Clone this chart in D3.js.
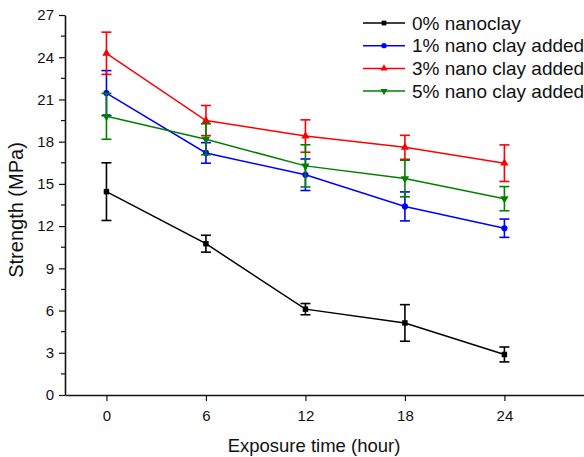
<!DOCTYPE html>
<html>
<head>
<meta charset="utf-8">
<script src="https://cdn.jsdelivr.net/npm/d3@7"></script>
<style>
    body { margin: 0; background: #fff; }
    svg text { font-family: 'Liberation Sans', Arial, sans-serif; fill: #111; }
</style>
</head>
<body>
<svg id="chart" width="584" height="457"></svg>
<script>
'use strict';

// exposure time (hour)
var hours = [0, 6, 12, 18, 24];
var yTicks = [0, 3, 6, 9, 12, 15, 18, 21, 24, 27];

// strength (MPa) and error per series
var clay0 = [14.45, 10.75, 6.1, 5.12, 2.88];
var clay0Err = [2.05, 0.6, 0.4, 1.3, 0.53];
var clay1 = [21.45, 17.2, 15.65, 13.4, 11.85];
var clay1Err = [1.6, 0.73, 1.12, 1.03, 0.65];
var clay3 = [24.28, 19.5, 18.4, 17.6, 16.47];
var clay3Err = [1.5, 1.07, 1.15, 0.85, 1.3];
var clay5 = [19.8, 18.17, 16.28, 15.38, 13.95];
var clay5Err = [1.63, 1.1, 1.5, 1.3, 0.86];

var seriesNames = ['0% nanoclay', '1% nano clay added', '3% nano clay added', '5% nano clay added'];
var seriesColors = ['#000000', '#0000ff', '#ff0000', '#008000'];
var seriesSymbols = [d3.symbolSquare, d3.symbolCircle, d3.symbolTriangle, d3.symbolTriangle];

var series = [clay0, clay1, clay3, clay5].map(function (vals, i) {
    var errs = [clay0Err, clay1Err, clay3Err, clay5Err][i];
    return {
        name: seriesNames[i],
        color: seriesColors[i],
        symbol: seriesSymbols[i],
        flip: i === 3, //green uses a down triangle
        points: vals.map(function (v, j) {
            return { x: hours[j], y: v, err: errs[j] };
        })
    };
});

var svg = d3.select('#chart');

var x = d3.scaleLinear().domain([-2.5, 28.8]).range([65, 584]);
var y = d3.scaleLinear().domain([0, 27]).range([395, 15]);

//Y axis with minor ticks
var minorY = d3.range(1.5, 27, 3);
svg.append('g')
    .selectAll('line')
    .data(minorY)
    .enter().append('line')
    .attr('x1', 65).attr('x2', 61)
    .attr('y1', d => y(d)).attr('y2', d => y(d))
    .attr('stroke', '#111').attr('stroke-width', 1.2);

var yAxis = svg.append('g')
    .attr('transform', 'translate(65,0)')
    .call(d3.axisLeft(y).tickValues(yTicks).tickSize(6).tickPadding(5).tickSizeOuter(0));
yAxis.select('.domain').attr('stroke', '#111').attr('stroke-width', 1.6);
yAxis.selectAll('.tick line').attr('stroke', '#111').attr('stroke-width', 1.2);
yAxis.selectAll('.tick text').attr('font-size', 15).attr('fill', '#111');

var xAxis = svg.append('g')
    .attr('transform', 'translate(0,395)')
    .call(d3.axisBottom(x).tickValues(hours).tickSize(6).tickPadding(9).tickSizeOuter(0));
xAxis.select('.domain').attr('stroke', '#111').attr('stroke-width', 1.6);
xAxis.selectAll('.tick line').attr('stroke', '#111').attr('stroke-width', 1.2);
xAxis.selectAll('.tick text').attr('font-size', 15).attr('fill', '#111');

svg.append('text')
    .attr('x', 314)
    .attr('y', 452)
    .attr('text-anchor', 'middle')
    .attr('font-size', 18.5)
    .text('Exposure time (hour)');

svg.append('text')
    .attr('transform', 'translate(23,210) rotate(-90)')
    .attr('text-anchor', 'middle')
    .attr('font-size', 20)
    .text('Strength (MPa)');

var line = d3.line().x(d => x(d.x)).y(d => y(d.y));

series.forEach(function (s) {
    var g = svg.append('g');

    g.append('path')
        .datum(s.points)
        .attr('d', line)
        .attr('fill', 'none')
        .attr('stroke', s.color)
        .attr('stroke-width', 1.5);

    //Error bars
    var bars = g.selectAll('.err')
        .data(s.points)
        .enter().append('g');
    bars.append('line')
        .attr('x1', d => x(d.x)).attr('x2', d => x(d.x))
        .attr('y1', d => y(d.y + d.err)).attr('y2', d => y(d.y - d.err))
        .attr('stroke', s.color).attr('stroke-width', 1.6);
    [1, -1].forEach(function (sign) {
        bars.append('line')
            .attr('x1', d => x(d.x) - 5).attr('x2', d => x(d.x) + 5)
            .attr('y1', d => y(d.y + sign * d.err)).attr('y2', d => y(d.y + sign * d.err))
            .attr('stroke', s.color).attr('stroke-width', 1.6);
    });

    g.selectAll('.pt')
        .data(s.points)
        .enter().append('path')
        .attr('d', d3.symbol().type(s.symbol).size(30))
        .attr('transform', d => 'translate(' + x(d.x) + ',' + y(d.y) + ')' + (s.flip ? ' rotate(180)' : ''))
        .attr('fill', s.color);
});

//Legend
var legend = svg.append('g').attr('transform', 'translate(363,23)');
series.forEach(function (s, i) {
    var row = legend.append('g').attr('transform', 'translate(0,' + (i * 22.7) + ')');
    row.append('line')
        .attr('x1', 0).attr('x2', 42)
        .attr('stroke', s.color).attr('stroke-width', 1.5);
    row.append('path')
        .attr('d', d3.symbol().type(s.symbol).size(22))
        .attr('transform', 'translate(21,0)' + (s.flip ? ' rotate(180)' : ''))
        .attr('fill', s.color);
    row.append('text')
        .attr('x', 49)
        .attr('y', 6.5)
        .attr('font-size', 19)
        .text(s.name);
});
</script>
</body>
</html>
